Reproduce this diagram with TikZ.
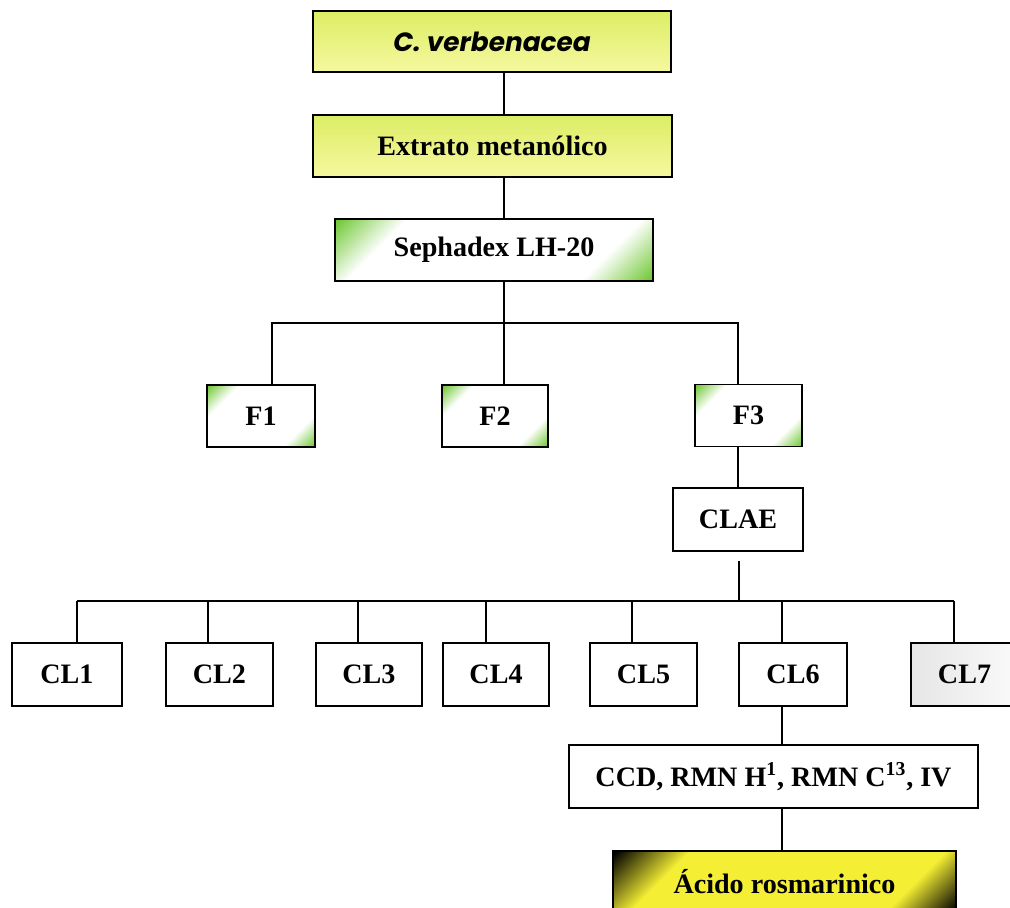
\documentclass[tikz,border=0pt]{standalone}
\usepackage{fontspec}
\setmainfont{Liberation Serif}
\newfontfamily\verbfont{Poppins}
\usetikzlibrary{calc,positioning}

\definecolor{leafgreen}{RGB}{112,200,52}
\definecolor{limetop}{RGB}{220,237,100}
\definecolor{limepale}{RGB}{246,248,160}
\definecolor{acidyellow}{RGB}{244,238,52}

\pgfdeclarehorizontalshading{greencorners}{100bp}{color(0bp)=(leafgreen); color(15bp)=(leafgreen); color(28bp)=(white); color(72bp)=(white); color(85bp)=(leafgreen); color(100bp)=(leafgreen)}
\pgfdeclarehorizontalshading{blackcorners}{100bp}{color(0bp)=(black); color(15bp)=(black); color(28bp)=(acidyellow); color(73bp)=(acidyellow); color(85bp)=(black); color(100bp)=(black)}

\begin{document}
\begin{tikzpicture}[x=0.02cm, y=-0.02cm,
    box/.style={rectangle, draw=black, line width=0.8pt, inner sep=0pt,
                font=\fontsize{16}{19}\selectfont\bfseries,
                minimum width=2.14cm, minimum height=1.26cm},
    limebox/.style={box, top color=limetop, bottom color=limepale},
    leafbox/.style={box, shade, shading=greencorners, shading angle=-45},
    greybox/.style={box, left color=gray!20, right color=gray!4},
    acidbox/.style={box, shade, shading=blackcorners, shading angle=-45},
    link/.style={black, line width=0.7pt}]
  \useasboundingbox (0,0) rectangle (1010,907);
  \clip (0,0) rectangle (1010,907);

  % plant and extract
  \path (492,41.5) node (verb) [limebox, minimum width=7.16cm, minimum height=1.22cm]
          {\verbfont\fontsize{15}{18}\selectfont\bfseries\itshape C.\ verbenacea}
        (492.5,146) node (extr) [limebox, minimum width=7.18cm, minimum height=1.24cm]
          {Extrato metanólico}
        (494,250) node (seph) [leafbox, minimum width=6.36cm, minimum height=1.24cm]
          {Sephadex LH-20};

  % fractions
  \path (261,416) node (f1) [leafbox, minimum width=2.16cm, minimum height=1.24cm] {F1}
        (495,416) node (f2) [leafbox, minimum width=2.12cm, minimum height=1.24cm] {F2}
        (748.5,415.5) node (f3) [leafbox, minimum height=1.24cm] {F3}
        (738,519.5) node (clae) [box, minimum width=2.6cm] {CLAE};

  % subfractions
  \path (67,674.5)    node (cl1) [box, minimum width=2.2cm] {CL1}
        (219.5,674.5) node (cl2) [box] {CL2}
        (369,674.5)   node (cl3) [box, minimum width=2.12cm] {CL3}
        (496,674.5)   node (cl4) [box, minimum width=2.12cm] {CL4}
        (643.5,674.5) node (cl5) [box] {CL5}
        (793,674.5)   node (cl6) [box, minimum width=2.16cm] {CL6}
        (964.5,674.5) node (cl7) [greybox] {CL7};

  \path (773.5,776.5) node (ccd) [box, minimum width=8.18cm]
          {CCD, RMN H\textsuperscript{1}, RMN C\textsuperscript{13}, IV}
        (784.5,882) node (acid) [acidbox, minimum width=6.86cm, minimum height=1.24cm]
          {Ácido rosmarinico};

  % connectors
  \coordinate (b1) at (504,323);
  \coordinate (t1) at (272,323);
  \coordinate (t3) at (738,323);
  \coordinate (b2) at (739,601);
  \draw [link] (verb.south -| b1) -- (extr.north -| b1);
  \draw [link] (extr.south -| b1) -- (seph.north -| b1);
  \draw [link] (seph.south -| b1) -- (f2.north -| b1);
  \draw [link] (t1 |- f1.north) -- (t1) -- (t3) -- (t3 |- f3.north);
  \draw [link] (f3.south -| t3) -- (clae.north -| t3);
  \draw [link, shorten <=0.18cm] (clae.south -| b2) -- (b2);
  \foreach \n/\x in {1/77,2/208,3/358,4/486,5/632,6/782,7/954}
    \coordinate (k\n) at (\x,601);
  \draw [link] (k1) -- (k7);
  \foreach \n in {1,...,7}
    \draw [link] (k\n) -- (k\n |- cl\n.north);
  \draw [link] (cl6.south -| k6) -- (ccd.north -| k6);
  \draw [link] (ccd.south -| k6) -- (acid.north -| k6);
\end{tikzpicture}
\end{document}
